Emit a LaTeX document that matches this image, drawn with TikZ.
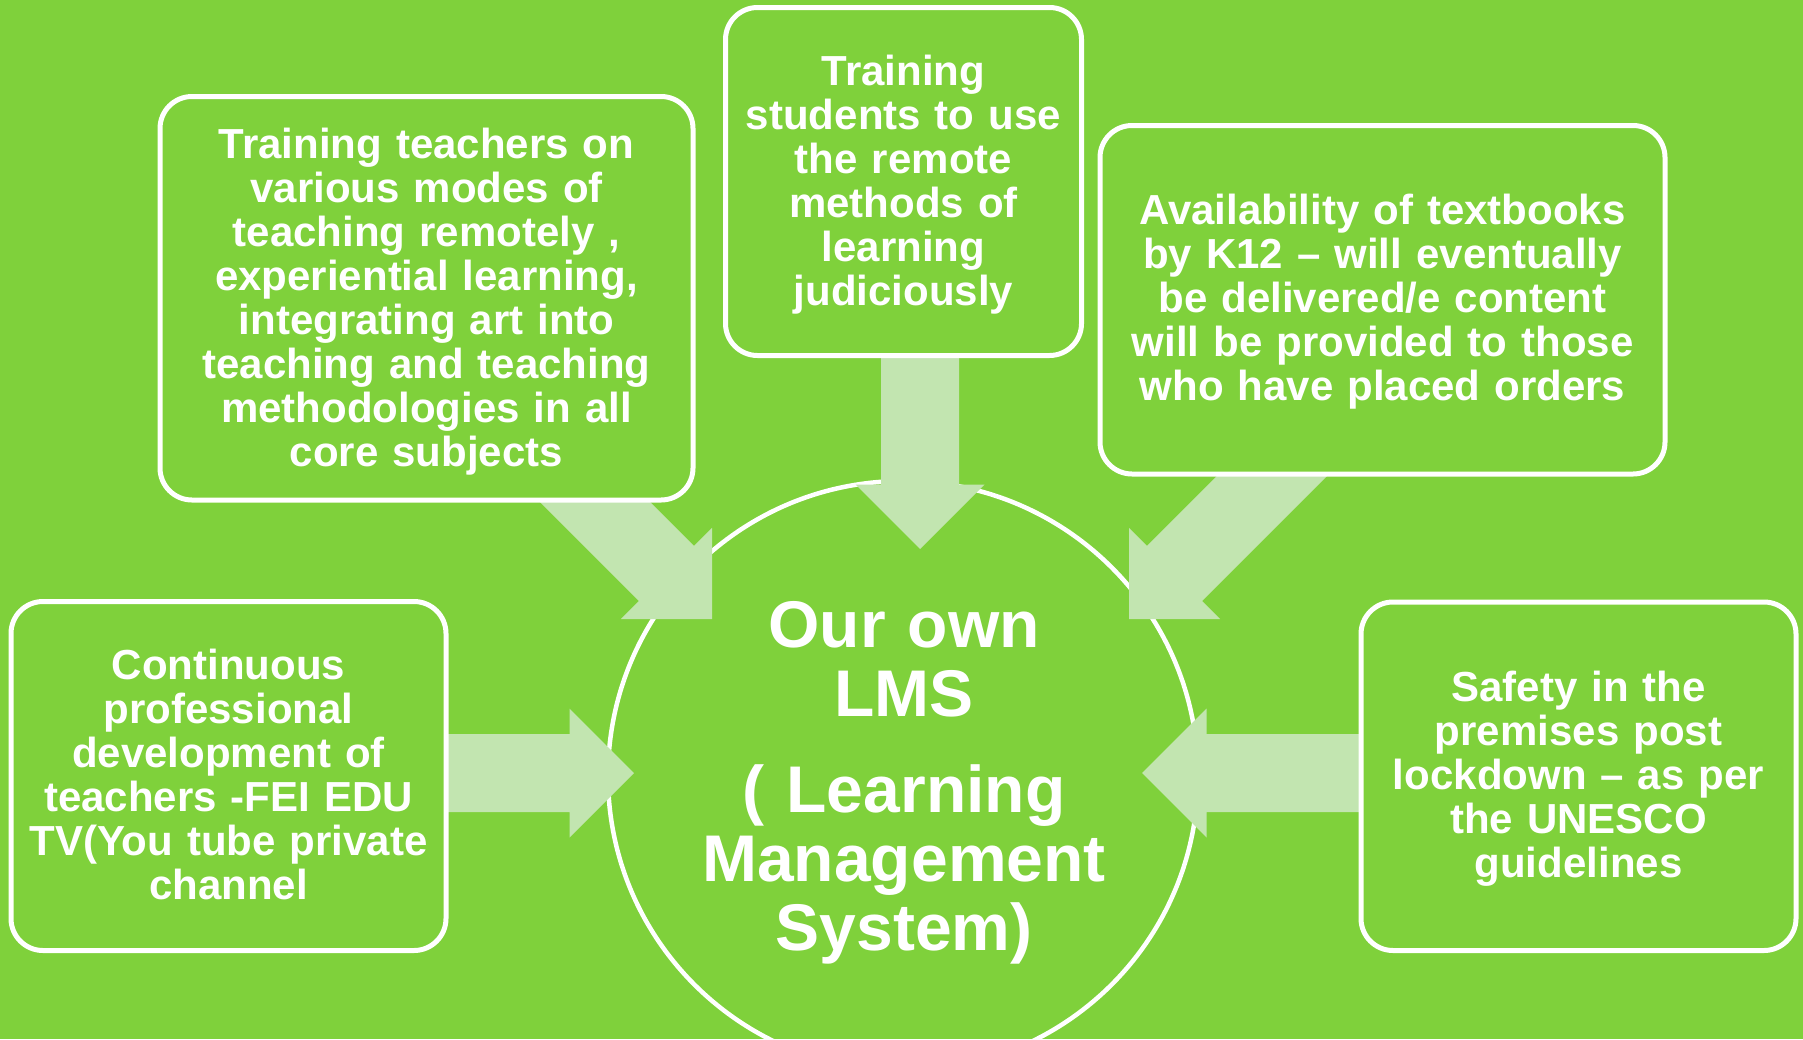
\documentclass[tikz,border=0pt]{standalone}
\usepackage{fontspec}
\setmainfont{Liberation Sans}
\definecolor{bggreen}{RGB}{127,209,59}
\definecolor{arrowgreen}{RGB}{194,229,176}
\tikzset{
  boxnode/.style={draw=white, line width=5pt, fill=bggreen, rounded corners=32pt, inner sep=0pt, rectangle},
  boxtext/.style={text=white, font=\bfseries\fontsize{42}{44}\selectfont, align=center, inner sep=0pt, anchor=base},
  blockarrow/.style={fill=arrowgreen, draw=none},
}
\begin{document}
\begin{tikzpicture}[x=1pt,y=-1pt]
\useasboundingbox (0,0) rectangle (1803,1039);
\clip (0,0) rectangle (1803,1039);
\fill[bggreen] (0,0) rectangle (1803,1039);
% central circle
\node[circle, draw=white, line width=4.5pt, minimum size=590pt, inner sep=0pt] (c) at (903,776) {};
% arrow tips
\coordinate (tipL) at (634,773);
\coordinate (tipR) at (1142,773);
\coordinate (tipD) at (920,549);
\coordinate (tipUL) at (712,619);
\coordinate (tipUR) at (1129,619);
% block arrows
\fill[blockarrow] (tipL) -- ++(-64.5,-64.5) -- ++(0,25.5) -- ++(-200,0) -- ++(0,78) -- ++(200,0) -- ++(0,25.5) -- cycle;
\fill[blockarrow] (tipR) -- ++(64.5,-64.5) -- ++(0,25.5) -- ++(200,0) -- ++(0,78) -- ++(-200,0) -- ++(0,25.5) -- cycle;
\fill[blockarrow] (tipD) -- ++(-64.5,-64.5) -- ++(25.5,0) -- ++(0,-200) -- ++(78,0) -- ++(0,200) -- ++(25.5,0) -- cycle;
\fill[blockarrow] (tipUL) -- ++(0,-91.2) -- ++(-18,18) -- ++(-138.3,-138.2) -- ++(-55.1,55.1) -- ++(138.2,138.3) -- ++(-18,18) -- cycle;
\fill[blockarrow] (tipUR) -- ++(0,-91.2) -- ++(18,18) -- ++(138.3,-138.2) -- ++(55.1,55.1) -- ++(-138.2,138.3) -- ++(18,18) -- cycle;
% boxes
\node[boxnode, minimum width=435pt, minimum height=349pt] (b1) at (228.5,776) {};
\node[boxnode, minimum width=533pt, minimum height=403.5pt] (b2) at (426.5,298.25) {};
\node[boxnode, minimum width=356pt, minimum height=348pt] (b3) at (903.5,181.5) {};
\node[boxnode, minimum width=565pt, minimum height=348.5pt] (b4) at (1382.5,299.75) {};
\node[boxnode, minimum width=435pt, minimum height=348.5pt] (b5) at (1578.5,776.25) {};
% texts
\node[boxtext, text width=430pt] (t1) at (228.5,679) {Continuous\\professional\\development of\\teachers -FEI EDU\\TV(You tube private\\channel};
\node[boxtext, text width=525pt] (t2) at (426.5,158) {Training teachers on\\various modes of\\teaching remotely ,\\experiential learning,\\integrating art into\\teaching and teaching\\methodologies in all\\core subjects};
\node[boxtext, text width=350pt] (t3) at (903.5,85) {Training\\students to use\\the remote\\methods of\\learning\\judiciously};
\node[boxtext, text width=555pt] (t4) at (1382.5,224.5) {Availability of textbooks\\by K12 – will eventually\\be delivered/e content\\will be provided to those\\who have placed orders};
\node[boxtext, text width=428pt] (t5) at (1578.5,701) {Safety in the\\premises post\\lockdown – as per\\the UNESCO\\guidelines};
\node[text=white, font=\bfseries\fontsize{66}{69}\selectfont, align=center, inner sep=0pt, anchor=base, text width=580pt] (ct) at (904,647) {Our own\\LMS\\[27pt]( Learning\\Management\\System)};
\end{tikzpicture}
\end{document}
